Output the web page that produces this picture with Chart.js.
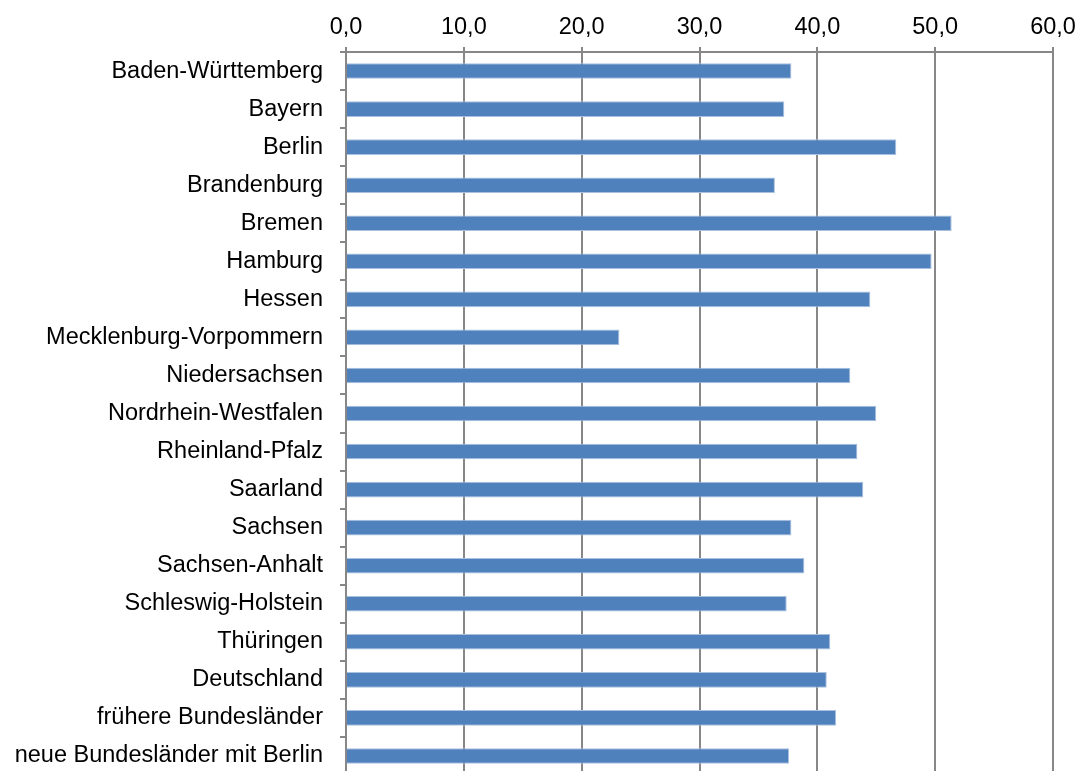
<!DOCTYPE html>
<html lang="de">
<head>
<meta charset="utf-8">
<title>Bundesländer</title>
<script src="https://cdn.jsdelivr.net/npm/chart.js@4/dist/chart.umd.min.js"></script>
<style>
    html, body { margin: 0; padding: 0; background: #fff; overflow: hidden; }
    #frame { width: 1077px; height: 771px; overflow: hidden; }
    #box { position: relative; width: 1077px; height: 776px; }
</style>
</head>
<body>
<div id="frame">
    <div id="box"><canvas id="chart"></canvas></div>
</div>
<script>
const laender = [
    "Baden-Württemberg", "Bayern", "Berlin", "Brandenburg", "Bremen", "Hamburg",
    "Hessen", "Mecklenburg-Vorpommern", "Niedersachsen", "Nordrhein-Westfalen",
    "Rheinland-Pfalz", "Saarland", "Sachsen", "Sachsen-Anhalt", "Schleswig-Holstein",
    "Thüringen", "Deutschland", "frühere Bundesländer", "neue Bundesländer mit Berlin"
]
const werte = [
    37.8, 37.2, 46.7, 36.4, 51.4, 49.7, 44.5, 23.2, 42.8, 45.0,
    43.4, 43.9, 37.8, 38.9, 37.4, 41.1, 40.8, 41.6, 37.6
]
const achseMin = 0
const achseMax = 60
const achseSchritt = 10

const grau = '#878787'
const schrift = { family: '"Liberation Sans", Arial, sans-serif', size: 23.5 }

// 12,5 -> "12,5"
const komma = (v) => Number(v).toFixed(1).replace('.', ',')

const plotData = () => {
    const ctx = document.getElementById('chart').getContext('2d')
    new Chart(ctx, {
        type: 'bar',
        data: {
            labels: laender,
            datasets: [{
                data: werte,
                backgroundColor: '#4F81BD',
                borderColor: '#A9C0DF',
                borderWidth: 1,
                barPercentage: 0.41,
                categoryPercentage: 1
            }]
        },
        options: {
            indexAxis: 'y',
            responsive: true,
            maintainAspectRatio: false,
            animation: false,
            devicePixelRatio: 1,
            layout: { padding: { left: 0, right: 24, top: 0, bottom: 1 } },
            plugins: {
                legend: { display: false },
                tooltip: { enabled: false }
            },
            scales: {
                x: {
                    position: 'top',
                    min: achseMin,
                    max: achseMax,
                    // feste Höhe, keine Zusatzränder durch die Randbeschriftungen
                    afterFit: (scale) => {
                        scale.height = 52
                        scale.paddingLeft = 0
                        scale.paddingRight = 0
                    },
                    ticks: {
                        stepSize: achseSchritt,
                        color: '#000',
                        font: schrift,
                        padding: 5,
                        maxRotation: 0,
                        callback: (v) => komma(v)
                    },
                    grid: {
                        color: grau,
                        lineWidth: 2,
                        tickLength: 5,
                        drawTicks: true
                    },
                    border: { display: true, color: grau, width: 2 }
                },
                y: {
                    afterFit: (scale) => {
                        scale.width = 346
                        scale.paddingTop = 0
                        scale.paddingBottom = 0
                    },
                    ticks: {
                        color: '#000',
                        font: schrift,
                        padding: 17,
                        autoSkip: false
                    },
                    grid: {
                        offset: true,
                        drawOnChartArea: false,
                        drawTicks: true,
                        tickLength: 6,
                        color: grau,
                        lineWidth: 2
                    },
                    border: { display: true, color: grau, width: 2 }
                }
            }
        }
    })
}

plotData()
</script>
</body>
</html>
